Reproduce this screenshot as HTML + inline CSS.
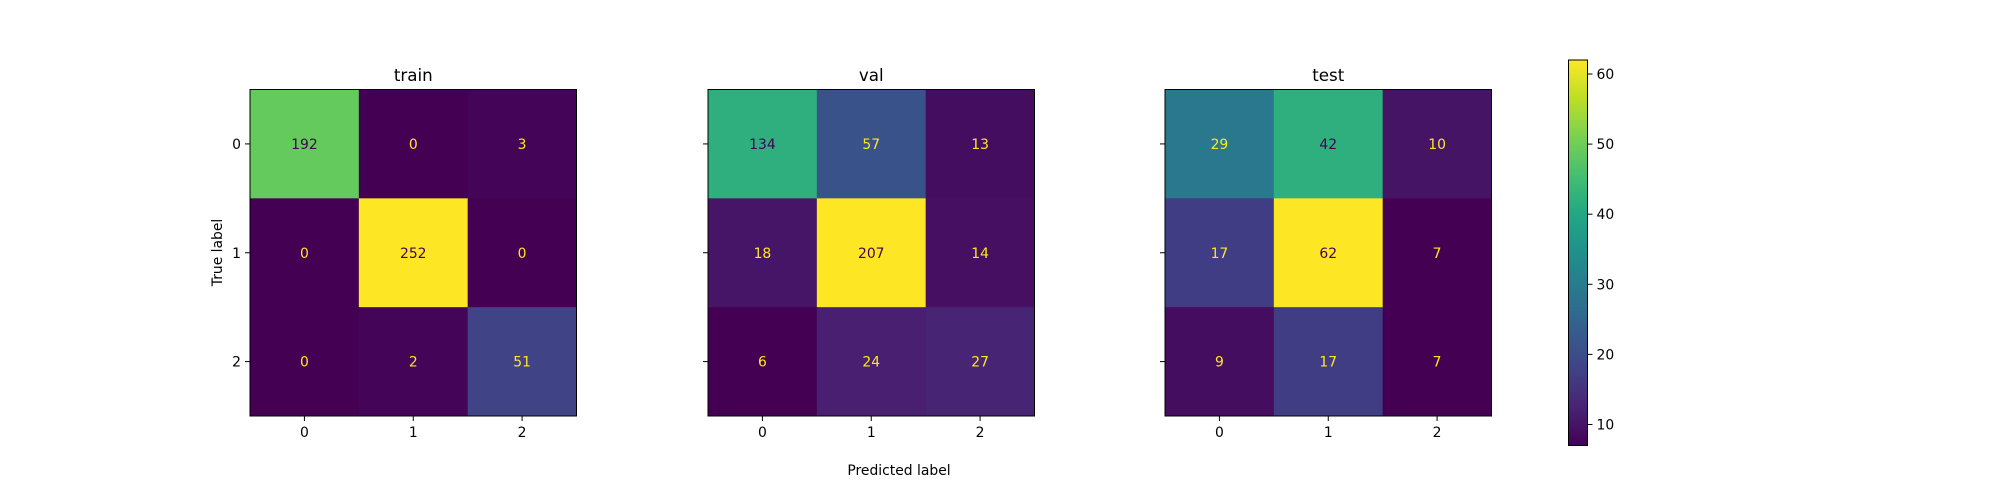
<!DOCTYPE html>
<html><head><meta charset="utf-8"><style>
body{margin:0;background:#fff;}
svg{display:block;font-family:"DejaVu Sans","Liberation Sans",sans-serif;}
</style></head><body>
<svg id="fig" width="2000" height="500" viewBox="0 0 2000 500" xmlns="http://www.w3.org/2000/svg"></svg>
<script>
const classes = ["0","1","2"];
const panelTitles = ["train","val","test"];
const trainValues = [[192,0,3],[0,252,0],[0,2,51]];
const valValues = [[134,57,13],[18,207,14],[6,24,27]];
const testValues = [[29,42,10],[17,62,7],[9,17,7]];
const colorbarTicks = [10,20,30,40,50,60];

const VIR=[[68,1,84],[72,35,116],[64,67,135],[52,94,141],[41,120,142],[32,144,140],[34,167,132],[68,190,112],[121,209,81],[189,222,38],[253,231,37]];
function viridis(t){t=Math.max(0,Math.min(1,t));const p=t*10,i=Math.min(9,Math.floor(p)),f=p-i;const a=VIR[i],b=VIR[i+1];
return `rgb(${Math.round(a[0]+(b[0]-a[0])*f)},${Math.round(a[1]+(b[1]-a[1])*f)},${Math.round(a[2]+(b[2]-a[2])*f)})`;}
const NS="http://www.w3.org/2000/svg";
const svg=document.getElementById('fig');
function mk(tag,attrs,parent){const e=document.createElementNS(NS,tag);for(const k in attrs)e.setAttribute(k,attrs[k]);(parent||svg).appendChild(e);return e;}
function txt(s,attrs,parent){const e=mk('text',attrs,parent);e.textContent=s;return e;}

const panels=[trainValues,valValues,testValues];
const lefts=[250,708,1165];
const panelTop=89.5, size=326.5, cell=size/3;
panels.forEach((vals,pi)=>{
  const g=mk('g',{});
  
  
  const flat=vals.flat();const mn=Math.min(...flat),mx=Math.max(...flat);const thr=(mn+mx)/2;
  const x0=lefts[pi];
  vals.forEach((row,r)=>row.forEach((v,c)=>{
    const rc=mk('rect',{x:x0+c*cell,y:panelTop+r*cell,width:cell+0.5,height:cell+0.5,fill:viridis((v-mn)/(mx-mn))},g);
    
    
    const t=txt(String(v),{x:x0+(c+0.5)*cell,y:panelTop+(r+0.5)*cell+5,'text-anchor':'middle','font-size':'13.9',fill:v<thr?viridis(1):viridis(0)},g);
    
    
  }));
  mk('rect',{x:x0,y:panelTop,width:size,height:size,fill:'none',stroke:'#000','stroke-width':1},g);
  const tt=txt(panelTitles[pi],{x:x0+size/2,y:81,'text-anchor':'middle','font-size':'16.7',fill:'#000'},g);
  
  
  classes.forEach((c,i)=>{
    const cx=x0+(i+0.5)*cell;
    mk('line',{x1:cx,x2:cx,y1:panelTop+size,y2:panelTop+size+5,stroke:'#000'},g);
    const xl=txt(c,{x:cx,y:panelTop+size+21,'text-anchor':'middle','font-size':'13.9'},g);
    
    
    const ry=panelTop+(i+0.5)*cell;
    mk('line',{x1:x0-5,x2:x0,y1:ry,y2:ry,stroke:'#000'},g);
    if(pi===0){const yl=txt(c,{x:x0-9,y:ry+5,'text-anchor':'end','font-size':'13.9'},g);
      
      }
  });
});
const yt=txt('True label',{x:0,y:0,transform:'translate(222,252.5) rotate(-90)','text-anchor':'middle','font-size':'13.9'});


const xt=txt('Predicted label',{x:899,y:475,'text-anchor':'middle','font-size':'13.9'});



const cbMin=Math.min(...testValues.flat()),cbMax=Math.max(...testValues.flat());
const cbX=1568.5,cbW=19,cbTop=60,cbBot=445.5;
const cb=mk('g',{});


const defs=mk('defs',{},cb);const lg=mk('linearGradient',{id:'vg',x1:0,y1:1,x2:0,y2:0},defs);
for(let i=0;i<=20;i++)mk('stop',{offset:i/20,'stop-color':viridis(i/20)},lg);
mk('rect',{x:cbX,y:cbTop,width:cbW,height:cbBot-cbTop,fill:'url(#vg)',stroke:'#000','stroke-width':1},cb);
const cbY=v=>cbBot-(v-cbMin)/(cbMax-cbMin)*(cbBot-cbTop);
colorbarTicks.forEach(v=>{
  mk('line',{x1:cbX+cbW,x2:cbX+cbW+5,y1:cbY(v),y2:cbY(v),stroke:'#000'},cb);
  const l=txt(String(v),{x:cbX+cbW+9,y:cbY(v)+5,'font-size':'13.9'},cb);
  
  
});
</script>
</body></html>
